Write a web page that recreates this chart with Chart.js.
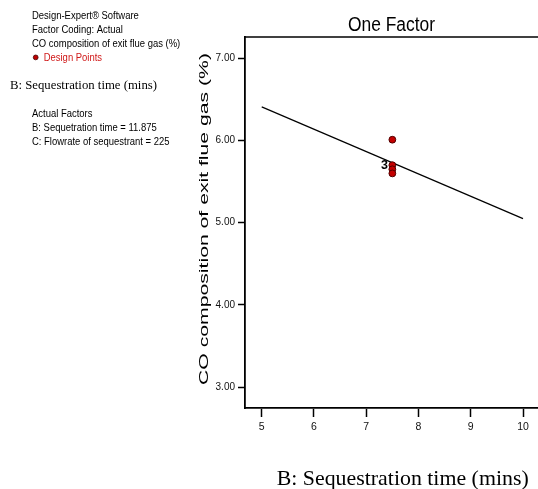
<!DOCTYPE html>
<html>
<head>
<meta charset="utf-8">
<script src="https://cdn.jsdelivr.net/npm/chart.js@4.4.0/dist/chart.umd.min.js"></script>
<style>
  html, body { margin: 0; padding: 0; background: #fff; overflow: hidden; }
  #wrap { position: absolute; left: 0; top: 0; width: 538px; height: 489px; }
</style>
</head>
<body>
<div id="wrap"><canvas id="c" width="538" height="489"></canvas></div>
<script>
// Axis ticks
const timeTicks = [5, 6, 7, 8, 9, 10];
const coTicks = [3, 4, 5, 6, 7];

// Model prediction line (one factor: sequestration time)
const fitTime = [5, 10];
const fitCO = [6.41, 5.05];

// Design points at the centre time
const designTime = [7.5, 7.5, 7.5, 7.5];
const designCO = [6.01, 5.70, 5.65, 5.60];
const replicateCounts = [1, 3, 1, 1];

// Side panel text
const infoLines = [
  'Design-Expert\u00AE Software',
  'Factor Coding: Actual',
  'CO composition of exit flue gas (%)'
];
const legendLabel = 'Design Points';
const factorLine = 'B: Sequestration time (mins)';
const actualLines = [
  'Actual Factors',
  'B: Sequetration time = 11.875',
  'C: Flowrate of sequestrant = 225'
];
const chartTitle = 'One Factor';
const xTitle = 'B: Sequestration time (mins)';
const yTitle = 'CO composition of exit flue gas (%)';

const SANS = '"Liberation Sans", Arial, sans-serif';
const SERIF = '"Liberation Serif", "Times New Roman", serif';

function drawScaled(ctx, text, font, x, y, sx, align, color) {
  ctx.save();
  ctx.font = font;
  ctx.fillStyle = color || '#000';
  ctx.textBaseline = 'alphabetic';
  ctx.textAlign = align || 'left';
  ctx.translate(x, y);
  ctx.scale(sx, 1);
  ctx.fillText(text, 0, 0);
  ctx.restore();
}

function drawFitted(ctx, text, font, x, y, width, align, color) {
  ctx.save();
  ctx.font = font;
  const w = ctx.measureText(text).width;
  ctx.restore();
  drawScaled(ctx, text, font, x, y, width / w, align, color);
}

const decorations = {
  id: 'decorations',
  afterDraw(chart) {
    const ctx = chart.ctx;
    const area = chart.chartArea;

    // top frame line
    ctx.save();
    ctx.strokeStyle = '#000';
    ctx.lineWidth = 1.3;
    ctx.beginPath();
    ctx.moveTo(area.left, area.top);
    ctx.lineTo(chart.width, area.top);
    ctx.stroke();
    ctx.restore();

    // title
    drawScaled(ctx, chartTitle, '20px ' + SANS, 391.5, 30.5, 0.87, 'center');

    // side panel
    const sf = '11px ' + SANS;
    drawScaled(ctx, infoLines[0], sf, 32, 19, 0.86);
    drawScaled(ctx, infoLines[1], sf, 32, 33, 0.86);
    drawScaled(ctx, infoLines[2], sf, 32, 47.3, 0.86);
    ctx.save();
    ctx.beginPath();
    ctx.arc(35.7, 57.4, 2.4, 0, Math.PI * 2);
    ctx.fillStyle = '#c00000';
    ctx.fill();
    ctx.lineWidth = 0.8;
    ctx.strokeStyle = '#400000';
    ctx.stroke();
    ctx.restore();
    drawScaled(ctx, legendLabel, sf, 43.7, 61.3, 0.86, 'left', '#d01818');
    drawFitted(ctx, factorLine, '13px ' + SERIF, 10, 89.4, 147);
    drawScaled(ctx, actualLines[0], sf, 32, 117.3, 0.86);
    drawScaled(ctx, actualLines[1], sf, 32, 131.2, 0.86);
    drawScaled(ctx, actualLines[2], sf, 32, 145, 0.86);

    // axis titles
    drawFitted(ctx, xTitle, '21.5px ' + SERIF, 276.7, 485, 252);
    ctx.save();
    ctx.translate(207.5, 219);
    ctx.rotate(-Math.PI / 2);
    drawFitted(ctx, yTitle, '13.5px ' + SANS, 0, 0, 332, 'center');
    ctx.restore();

    // replicate count labels beside design points
    const meta = chart.getDatasetMeta(1);
    meta.data.forEach((pt, i) => {
      if (replicateCounts[i] > 1) {
        ctx.save();
        ctx.font = 'bold 12.5px ' + SANS;
        ctx.fillStyle = '#000';
        ctx.textAlign = 'right';
        ctx.textBaseline = 'middle';
        ctx.fillText(String(replicateCounts[i]), pt.x - 4.3, pt.y);
        ctx.restore();
      }
    });
  }
};

function noEdgePadding(s) {
  s.paddingLeft = 0;
  s.paddingRight = 0;
  s.paddingTop = 0;
  s.paddingBottom = 0;
}

new Chart(document.getElementById('c'), {
  data: {
    datasets: [
      {
        type: 'line',
        data: fitTime.map((t, i) => ({ x: t, y: fitCO[i] })),
        borderColor: '#000',
        borderWidth: 1.2,
        pointRadius: 0,
        tension: 0,
        fill: false,
        order: 2
      },
      {
        type: 'scatter',
        data: designTime.map((t, i) => ({ x: t, y: designCO[i] })),
        backgroundColor: '#c40000',
        borderColor: '#500000',
        borderWidth: 1,
        pointRadius: 3.4,
        order: 1
      }
    ]
  },
  plugins: [decorations],
  options: {
    responsive: false,
    animation: false,
    layout: { autoPadding: false, padding: { top: 37, left: 0, right: 0, bottom: 0 } },
    plugins: { legend: { display: false }, tooltip: { enabled: false } },
    scales: {
      x: {
        type: 'linear',
        min: 4.68,
        max: 10.287,
        afterBuildTicks: (s) => { s.ticks = timeTicks.map(v => ({ value: v })); },
        afterFit: (s) => { s.height = 81; noEdgePadding(s); },
        ticks: {
          color: '#111',
          font: { family: SANS, size: 10.5 },
          padding: 4,
          maxRotation: 0,
          callback: (v) => String(v)
        },
        grid: {
          drawOnChartArea: false,
          drawTicks: true,
          tickLength: 9,
          tickColor: '#000',
          tickWidth: 1.5
        },
        border: { display: true, color: '#000', width: 1.8 }
      },
      y: {
        type: 'linear',
        min: 2.745,
        max: 7.26,
        afterBuildTicks: (s) => { s.ticks = coTicks.map(v => ({ value: v })); },
        afterFit: (s) => { s.width = 245; noEdgePadding(s); },
        ticks: {
          color: '#111',
          font: { family: SANS, size: 10 },
          padding: 3,
          callback: (v) => Number(v).toFixed(2)
        },
        grid: {
          drawOnChartArea: false,
          drawTicks: true,
          tickLength: 7,
          tickColor: '#000',
          tickWidth: 1.5
        },
        border: { display: true, color: '#000', width: 1.8 }
      }
    }
  }
});
</script>
</body>
</html>
